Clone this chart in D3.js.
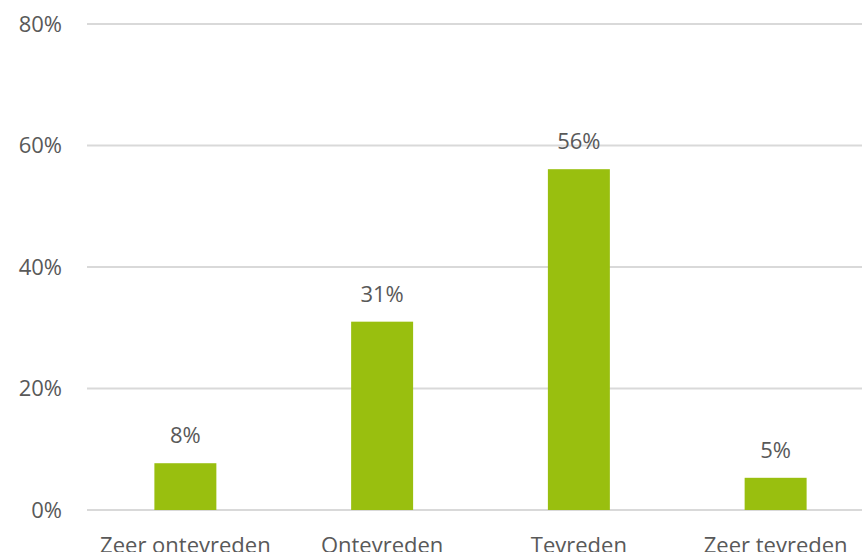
<!DOCTYPE html>
<html>
<head>
<meta charset="utf-8">
<script src="https://cdn.jsdelivr.net/npm/d3@7"></script>
<style>
  html, body { margin: 0; padding: 0; background: #fff; overflow: hidden; }
  svg text { font-family: "Open Sans", "Noto Sans", sans-serif; fill: #595959; }
</style>
</head>
<body>
<svg id="chart" width="862" height="552"></svg>
<script>
const categories = ["Zeer ontevreden", "Ontevreden", "Tevreden", "Zeer tevreden"];
const values = [7.7, 31.0, 56.1, 5.3];
const yTicks = [0, 20, 40, 60, 80];

const svg = d3.select("#chart");
const fontSize = 22;

const x = d3.scaleBand()
  .domain(categories)
  .range([87, 874])
  .paddingInner(0.685)
  .paddingOuter(0.3425);

const y = d3.scaleLinear().domain([0, 80]).range([510, 24]);

// gridlines
svg.append("g").selectAll("line")
  .data(yTicks)
  .join("line")
  .attr("x1", 87).attr("x2", 874)
  .attr("y1", d => y(d)).attr("y2", d => y(d))
  .attr("stroke", "#d9d9d9")
  .attr("stroke-width", 2);

// y axis labels
const yAxis = d3.axisLeft(y).tickValues(yTicks).tickFormat(d => d + "%").tickSize(0).tickPadding(0);
const gy = svg.append("g").attr("transform", "translate(62,0)").call(yAxis);
gy.select(".domain").remove();
gy.selectAll("text")
  .attr("font-size", fontSize)
  .attr("font-family", null)
  .attr("fill", "#595959");

// bars
svg.append("g").selectAll("rect")
  .data(values)
  .join("rect")
  .attr("x", (d, i) => x(categories[i]))
  .attr("width", x.bandwidth())
  .attr("y", d => y(d))
  .attr("height", d => y(0) - y(d))
  .attr("fill", "#99bf0f");

// data labels
svg.append("g").selectAll("text")
  .data(values)
  .join("text")
  .attr("x", (d, i) => x(categories[i]) + x.bandwidth() / 2)
  .attr("y", d => y(d) - 20)
  .attr("text-anchor", "middle")
  .attr("font-size", fontSize)
  .text(d => Math.round(d) + "%");

// x axis labels
const xAxis = d3.axisBottom(x).tickSize(0).tickPadding(0);
const gx = svg.append("g").attr("transform", "translate(0,553)").call(xAxis);
gx.select(".domain").remove();
gx.selectAll("text")
  .attr("dy", 0)
  .attr("font-size", fontSize)
  .attr("font-family", null)
  .attr("fill", "#595959");
</script>
</body>
</html>
